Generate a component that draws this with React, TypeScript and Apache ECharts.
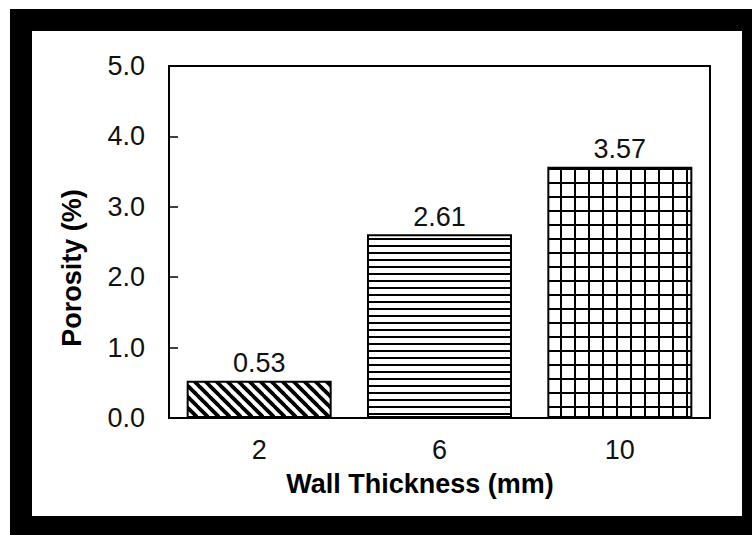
import React, { useEffect, useRef } from "react";
import * as echarts from "echarts";

const categories = ["2", "6", "10"];
const porosity = [0.53, 2.61, 3.57];
const yTicks = { min: 0, max: 5, interval: 1 };
const xTitle = "Wall Thickness (mm)";
const yTitle = "Porosity (%)";

const FONT = "'Liberation Sans', Arial, sans-serif";

function makeDiagonal() {
  const s = 11;
  const c = document.createElement("canvas");
  c.width = s;
  c.height = s;
  const ctx = c.getContext("2d")!;
  ctx.fillStyle = "#fff";
  ctx.fillRect(0, 0, s, s);
  ctx.strokeStyle = "#000";
  ctx.lineWidth = 3.8;
  for (const k of [-s, 0, s]) {
    ctx.beginPath();
    ctx.moveTo(k - 1, -1);
    ctx.lineTo(k + s + 1, s + 1);
    ctx.stroke();
  }
  return { image: c, repeat: "repeat", imageWidth: s, imageHeight: s };
}

function makeHorizontal() {
  const w = 8;
  const h = 7;
  const c = document.createElement("canvas");
  c.width = w;
  c.height = h;
  const ctx = c.getContext("2d")!;
  ctx.fillStyle = "#fff";
  ctx.fillRect(0, 0, w, h);
  ctx.fillStyle = "#000";
  ctx.fillRect(0, 0, w, 2);
  return { image: c, repeat: "repeat", imageWidth: w, imageHeight: h };
}

function makeGrid() {
  const s = 14;
  const c = document.createElement("canvas");
  c.width = s;
  c.height = s;
  const ctx = c.getContext("2d")!;
  ctx.fillStyle = "#fff";
  ctx.fillRect(0, 0, s, s);
  ctx.fillStyle = "#000";
  ctx.fillRect(0, 0, s, 2);
  ctx.fillRect(0, 0, 2, s);
  return { image: c, repeat: "repeat", imageWidth: s, imageHeight: s };
}

export default function App() {
  const ref = useRef<HTMLDivElement>(null);
  useEffect(() => {
    if (!ref.current) return;
    const chart = echarts.init(ref.current, undefined, { renderer: "svg" });
    const patterns = [makeDiagonal(), makeHorizontal(), makeGrid()];
    chart.setOption({
      animation: false,
      backgroundColor: "#fff",
      textStyle: { fontFamily: FONT },
      grid: {
        left: 169,
        top: 66,
        right: 42,
        bottom: 117,
        show: true,
        borderColor: "#000",
        borderWidth: 2,
        backgroundColor: "transparent",
      },
      graphic: [
        {
          type: "rect",
          z: -10,
          shape: { x: 10, y: 9, width: 742, height: 526 },
          style: { fill: "#000" },
        },
        {
          type: "rect",
          z: -9,
          shape: { x: 32, y: 31, width: 710, height: 485 },
          style: { fill: "#fff" },
        },
        {
          type: "text",
          z: 10,
          x: 420,
          y: 484,
          style: {
            text: xTitle,
            fontFamily: FONT,
            fontSize: 27,
            fontWeight: "bold",
            fill: "#000",
            align: "center",
            verticalAlign: "middle",
          },
        },
        {
          type: "text",
          z: 10,
          x: 72,
          y: 268,
          rotation: Math.PI / 2,
          style: {
            text: yTitle,
            fontFamily: FONT,
            fontSize: 27,
            fontWeight: "bold",
            fill: "#000",
            align: "center",
            verticalAlign: "middle",
          },
        },
      ],
      xAxis: {
        type: "category",
        data: categories,
        axisLine: { show: true, lineStyle: { color: "#000", width: 2 } },
        axisTick: { show: false },
        axisLabel: { fontSize: 27, color: "#111", margin: 18, fontFamily: FONT },
        splitLine: { show: false },
      },
      yAxis: {
        type: "value",
        min: yTicks.min,
        max: yTicks.max,
        interval: yTicks.interval,
        axisLine: { show: true, lineStyle: { color: "#000", width: 2 } },
        axisTick: { show: true, inside: true, length: 9, lineStyle: { color: "#000", width: 1.5 } },
        axisLabel: {
          fontSize: 27,
          color: "#111",
          margin: 24,
          fontFamily: FONT,
          formatter: (v: number) => v.toFixed(1),
        },
        splitLine: { show: false },
      },
      series: [
        {
          type: "bar",
          barWidth: 145,
          data: porosity.map((v, i) => ({
            value: v,
            itemStyle: { color: patterns[i] },
          })),
          itemStyle: { borderColor: "#000", borderWidth: 2 },
          label: {
            show: true,
            position: "top",
            distance: 4,
            fontSize: 27,
            color: "#111",
            fontFamily: FONT,
            formatter: (p: any) => Number(p.value).toFixed(2),
          },
        },
      ],
    });
    return () => chart.dispose();
  }, []);
  return (
    <div
      ref={ref}
      style={{ position: "fixed", left: 0, top: 0, width: 752, height: 535 }}
    />
  );
}
